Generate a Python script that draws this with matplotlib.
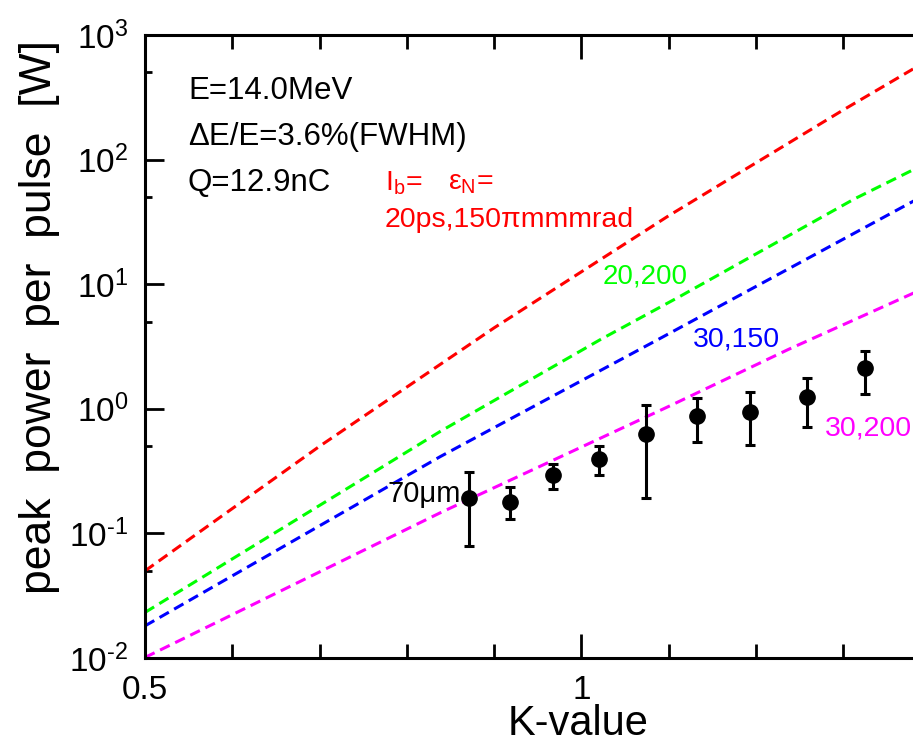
import matplotlib
matplotlib.use("Agg")
import matplotlib.pyplot as plt
from matplotlib.ticker import NullFormatter

plt.rcParams['font.family'] = ['Liberation Sans', 'DejaVu Sans']
plt.rcParams['mathtext.fontset'] = 'custom'
plt.rcParams['mathtext.rm'] = 'Liberation Sans'
plt.rcParams['mathtext.it'] = 'Liberation Sans:italic'
plt.rcParams['mathtext.bf'] = 'Liberation Sans:bold'

# measured points (K-value, peak power [W]) with error bar ends
k_data = [0.871, 0.918, 0.968, 1.020, 1.074, 1.132, 1.193, 1.258, 1.325]
p_data = [0.194, 0.180, 0.294, 0.397, 0.633, 0.873, 0.940, 1.24, 2.11]
p_hi = [0.309, 0.235, 0.358, 0.504, 1.08, 1.22, 1.36, 1.77, 2.92]
p_lo = [0.0785, 0.130, 0.229, 0.294, 0.193, 0.542, 0.513, 0.720, 1.32]

# calculated curves
red_k = [0.5, 0.7, 0.9, 1.1, 1.3, 1.38]
red_p = [0.050, 0.50, 4.46, 35.4, 250, 533]
green_k = [0.5, 0.838, 1.022, 1.114, 1.313, 1.382]
green_p = [0.0232, 0.656, 3.60, 8.05, 48.4, 84]
blue_k = [0.5, 0.838, 1.088, 1.382]
blue_p = [0.0181, 0.412, 3.60, 47.0]
mag_k = [0.5, 0.838, 1.102, 1.237, 1.382]
mag_p = [0.0101, 0.146, 1.06, 2.99, 8.57]

yticks = [1e-2, 1e-1, 1e0, 1e1, 1e2, 1e3]
ylabels = [r'$10^{‐2}$', r'$10^{‐1}$', r'$10^{0}$', r'$10^{1}$', r'$10^{2}$', r'$10^{3}$']
yminor = [0.05, 0.5, 5, 50, 500]
xticks = [0.5, 1.0]
xlabels = ['0.5', '1']
xminor = [0.6, 0.7, 0.8, 0.9, 1.1, 1.2, 1.3]

fig = plt.figure(figsize=(9.13, 7.44), dpi=100)
ax = fig.add_axes([0.1588, 0.1156, 0.8412, 0.8374])

dash = (0, (3.5, 2))
ax.plot(red_k, red_p, color='#ff0000', lw=2.2, linestyle=dash)
ax.plot(green_k, green_p, color='#00ff00', lw=2.2, linestyle=dash)
ax.plot(blue_k, blue_p, color='#0000ff', lw=2.2, linestyle=dash)
ax.plot(mag_k, mag_p, color='#ff00ff', lw=2.2, linestyle=dash)

err_lo = [p - lo for p, lo in zip(p_data, p_lo)]
err_hi = [hi - p for p, hi in zip(p_data, p_hi)]
ax.errorbar(k_data, p_data, yerr=[err_lo, err_hi], fmt='o', color='black',
            ms=11, lw=2.2, capsize=3.5, capthick=2.2, zorder=5)

ax.set_yscale('log')
ax.set_xlim(0.5, 1.38)
ax.set_ylim(1e-2, 1e3)

ax.set_yticks(yticks, labels=ylabels)
ax.set_yticks(yminor, minor=True)
ax.yaxis.set_minor_formatter(NullFormatter())
ax.set_xticks(xticks, labels=xlabels)
ax.set_xticks(xminor, minor=True)

ax.spines['right'].set_visible(False)
for s in ['left', 'bottom', 'top']:
    ax.spines[s].set_linewidth(2.2)

ax.tick_params(axis='both', which='both', direction='in', top=True, right=False, width=2)
ax.tick_params(axis='y', which='major', length=14, labelsize=24, pad=12)
ax.tick_params(axis='y', which='minor', length=5)
ax.tick_params(axis='x', which='major', length=17, labelsize=24, pad=12)
ax.tick_params(axis='x', which='minor', length=10)

ax.set_xlabel('K-value', fontsize=30)
ax.xaxis.set_label_coords(0.564, -0.074)
fig.text(40 / 913, 1 - 317 / 744, 'peak  power  per  pulse  [W]', rotation=90,
         ha='center', va='center', fontsize=32)

tr = ax.transAxes
ax.text(0.056, 0.910, 'E=14.0MeV', transform=tr, fontsize=22.5, va='center')
ax.text(0.056, 0.836, 'ΔE/E=3.6%(FWHM)', transform=tr, fontsize=22.5, va='center')
ax.text(0.056, 0.762, 'Q=12.9nC', transform=tr, fontsize=22.5, va='center')

ax.text(0.3125, 0.762, r'I$_\mathrm{b}$=', transform=tr, fontsize=20.5, va='center', color='#ff0000')
ax.text(0.3945, 0.762, r'ε$_\mathrm{N}$=', transform=tr, fontsize=20.5, va='center', color='#ff0000')
ax.text(0.3125, 0.703, '20ps,150πmmmrad', transform=tr, fontsize=20.5, va='center', color='#ff0000')
ax.text(0.596, 0.6116, '20,200', transform=tr, fontsize=20, va='center', color='#00ff00')
ax.text(0.7135, 0.512, '30,150', transform=tr, fontsize=20.5, va='center', color='#0000ff')
ax.text(0.885, 0.3676, '30,200', transform=tr, fontsize=20.5, va='center', color='#ff00ff')
ax.text(0.3164, 0.263, '70μm', transform=tr, fontsize=21, va='center', color='black')

fig.savefig('out.png', dpi=100)
